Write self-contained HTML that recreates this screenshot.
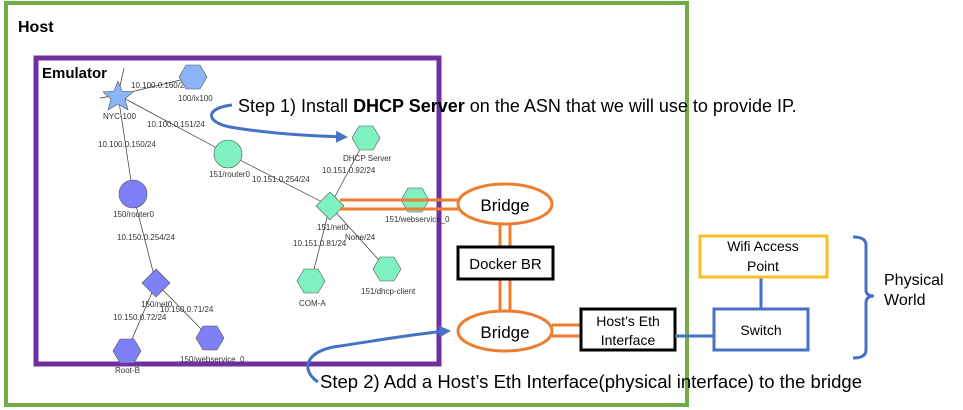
<!DOCTYPE html>
<html><head><meta charset="utf-8"><style>
html,body{margin:0;padding:0;background:#fff;}
svg{display:block;font-family:"Liberation Sans",sans-serif;}
</style></head><body>
<svg width="963" height="410" viewBox="0 0 963 410" xmlns="http://www.w3.org/2000/svg">
<defs><marker id="ah" markerWidth="4" markerHeight="4" refX="3" refY="2" orient="auto"><path d="M0,0 L4,2 L0,4z" fill="#4472c4"/></marker></defs>
<rect x="0" y="0" width="963" height="410" fill="#fff"/>
<rect x="6" y="3" width="681" height="402" fill="none" stroke="#70ad47" stroke-width="4"/>
<text x="18" y="32" font-size="16" font-weight="bold">Host</text>
<rect x="36" y="58" width="403" height="306" fill="none" stroke="#7030a0" stroke-width="5"/>
<text x="42" y="78" font-size="15" font-weight="bold">Emulator</text>
<g stroke="#333" stroke-width="0.7" fill="none">
<line x1="118" y1="95" x2="193" y2="77"/><line x1="118" y1="95" x2="228" y2="154"/><line x1="118" y1="95" x2="133" y2="194"/>
<line x1="228" y1="154" x2="330" y2="206"/><line x1="330" y1="206" x2="366" y2="138"/><line x1="330" y1="206" x2="311" y2="281"/><line x1="330" y1="206" x2="387" y2="269"/>
<line x1="133" y1="194" x2="156" y2="283"/><line x1="156" y1="283" x2="127" y2="351"/><line x1="156" y1="283" x2="210" y2="338"/>
<line x1="118" y1="95" x2="100" y2="98"/><line x1="118" y1="95" x2="124" y2="68"/>
</g>
<g font-size="8" fill="#333">
<text x="131" y="88">10.100.0.160/24</text><text x="178" y="101">100/ix100</text>
<text x="103" y="119">NYC-100</text><text x="147" y="127">10.100.0.151/24</text>
<text x="98" y="147">10.100.0.150/24</text><text x="209" y="177">151/router0</text>
<text x="252" y="182">10.151.0.254/24</text><text x="343" y="161">DHCP Server</text>
<text x="322" y="173">10.151.0.92/24</text><text x="113" y="217">150/router0</text>
<text x="117" y="240">10.150.0.254/24</text><text x="317" y="230">151/net0</text>
<text x="293" y="246">10.151.0.81/24</text><text x="345" y="240">None/24</text>
<text x="385" y="222">151/webservice_0</text><text x="361" y="294">151/dhcp-client</text>
<text x="299" y="306">COM-A</text><text x="141" y="307">150/net0</text>
<text x="160" y="312">10.150.0.71/24</text><text x="113" y="320">10.150.0.72/24</text>
<text x="180" y="362">150/webservice_0</text><text x="115" y="373">Root-B</text>
</g>
<g stroke="#555" stroke-width="0.6">
<polygon points="118,81 122,91 133,92 125,99 128,110 118,104 108,110 111,99 103,92 114,91" fill="#8ab4f8"/>
<polygon points="186,65 200,65 207,77 200,89 186,89 179,77" fill="#8ab4f8"/>
<polygon points="359,126 373,126 380,138 373,150 359,150 352,138" fill="#7ff0c0"/>
<circle cx="228" cy="154" r="14" fill="#7ff0c0"/>
<circle cx="133" cy="194" r="14" fill="#7f7ff7"/>
<polygon points="330,192 344,206 330,220 316,206" fill="#7ff0c0"/>
<polygon points="408,188 422,188 429,200 422,212 408,212 401,200" fill="#7ff0c0"/>
<polygon points="304,269 318,269 325,281 318,293 304,293 297,281" fill="#7ff0c0"/>
<polygon points="380,257 394,257 401,269 394,281 380,281 373,269" fill="#7ff0c0"/>
<polygon points="156,269 170,283 156,297 142,283" fill="#7f7ff7"/>
<polygon points="120,339 134,339 141,351 134,363 120,363 113,351" fill="#7f7ff7"/>
<polygon points="203,326 217,326 224,338 217,350 203,350 196,338" fill="#7f7ff7"/>
</g>
<g stroke="#ed7d31" stroke-width="3" fill="none">
<line x1="340" y1="200" x2="460" y2="200"/><line x1="340" y1="209" x2="460" y2="209"/>
<line x1="500" y1="224" x2="500" y2="247"/><line x1="510" y1="224" x2="510" y2="247"/>
<line x1="500" y1="279" x2="500" y2="311"/><line x1="510" y1="279" x2="510" y2="311"/>
<line x1="552" y1="325" x2="581" y2="325"/><line x1="552" y1="336" x2="581" y2="336"/>
<ellipse cx="505" cy="204" rx="47" ry="20" fill="#fff"/>
<ellipse cx="505" cy="331" rx="47" ry="20" fill="#fff"/>
</g>
<text x="505" y="211" font-size="17" text-anchor="middle">Bridge</text>
<text x="505" y="338" font-size="17" text-anchor="middle">Bridge</text>
<rect x="458" y="247" width="95" height="32" fill="#fff" stroke="#000" stroke-width="3"/>
<text x="505.5" y="269" font-size="15" text-anchor="middle">Docker BR</text>
<rect x="581" y="309" width="94" height="41" fill="#fff" stroke="#000" stroke-width="3"/>
<text x="628" y="326" font-size="14" text-anchor="middle">Host’s Eth</text>
<text x="628" y="345" font-size="14" text-anchor="middle">Interface</text>
<g stroke="#4472c4" stroke-width="3" fill="none">
<line x1="675" y1="336" x2="714" y2="336"/><line x1="761" y1="277" x2="761" y2="309"/>
<path d="M232,105 C205,108 205,122 230,127 C265,133 310,136 345,137" marker-end="url(#ah)"/>
<path d="M318,382 C300,370 305,350 340,346 C380,340 420,333 448,331" marker-end="url(#ah)"/>
<path d="M853,237 Q866,237 866,245 L866,290 Q866,296 874,296 Q866,296 866,303 L866,350 Q866,358 853,358"/>
</g>
<rect x="700" y="236" width="127" height="41" fill="#fff" stroke="#fbbf24" stroke-width="3"/>
<text x="763" y="251" font-size="14" text-anchor="middle">Wifi Access</text>
<text x="763" y="271" font-size="14" text-anchor="middle">Point</text>
<rect x="714" y="309" width="94" height="41" fill="#fff" stroke="#4472c4" stroke-width="3"/>
<text x="761" y="335" font-size="14" text-anchor="middle">Switch</text>
<text x="884" y="285" font-size="16">Physical</text>
<text x="884" y="305" font-size="16">World</text>
<text x="238" y="112" font-size="18">Step 1) Install <tspan font-weight="bold">DHCP Server</tspan> on the ASN that we will use to provide IP.</text>
<text x="320" y="388" font-size="18" textLength="542" lengthAdjust="spacingAndGlyphs">Step 2) Add a Host’s Eth Interface(physical interface) to the bridge</text>
</svg>
</body></html>
